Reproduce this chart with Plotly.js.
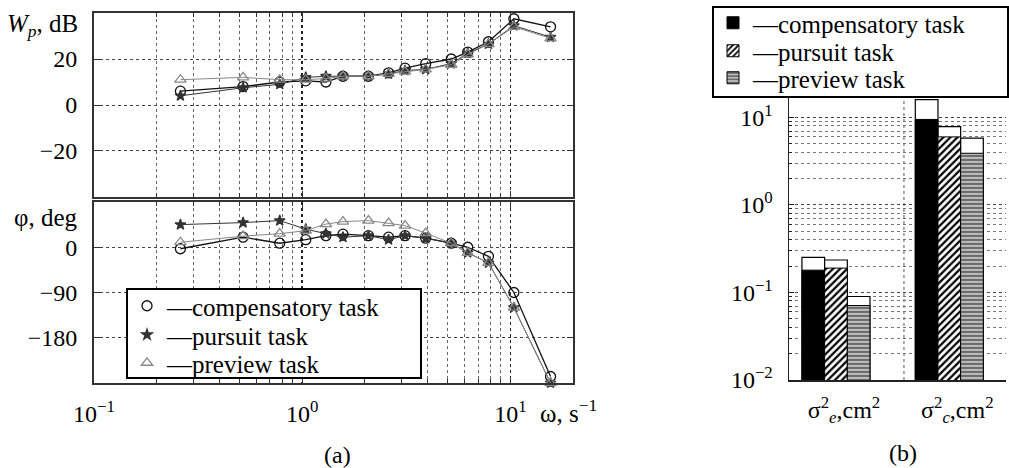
<!DOCTYPE html>
<html>
<head>
<meta charset="utf-8">
<script src="https://cdn.plot.ly/plotly-3.0.1.min.js"></script>
<style>html,body{margin:0;padding:0;background:#fff;}#chart{width:1009px;height:468px;}</style>
</head>
<body>
<div id="chart"></div>
<script>
// ---------- data (a) ----------
const freq = [0.26, 0.52, 0.78, 1.04, 1.3, 1.57, 2.08, 2.6, 3.12, 3.92, 5.2, 6.24, 7.85, 10.4, 15.6];
const magComp    = [6, 8, 10, 10.5, 10, 12.5, 12.5, 14, 16, 18, 20, 23, 27.5, 37.5, 34];
const magPursuit = [4, 7.5, 9, 12, 12.5, 12.5, 12.5, 13.5, 15, 15.5, 18, 22.5, 26.5, 34.5, 29.5];
const magPreview = [11, 12, 11, 11, 11.5, 12.5, 12.5, 13.5, 14.5, 15.5, 17.5, 22, 26.5, 34, 29];
const phComp     = [-3, 20, 8, 15, 23, 26, 23, 20, 23, 18, 8, 0, -18, -90, -257];
const phPursuit  = [45, 49, 53, 36, 27, 20, 23, 15, 23, 18, 8, -11, -31, -120, -270];
const phPreview  = [10, 22, 27, 33, 46, 51, 53, 48, 43, 28, 8, -11, -31, -120, -270];
const xMajorTicks = [0.1, 1, 10];
const xMajorText = ["10<sup>−1</sup>", "10<sup>0</sup>", "10<sup>1</sup>"];
const xMinorTicks = [0.2,0.3,0.4,0.5,0.6,0.7,0.8,0.9,2,3,4,5,6,7,8,9];
const magTicks = [-20, 0, 20];
const phTicks = [-180, -90, 0];
const seriesNames = ["—compensatory task", "—pursuit task", "—preview task"];

// ---------- data (b) ----------
const barCats = [1, 2];
const barCatLabels = ["σ<sup>2</sup><sub><i>e</i></sub>,cm<sup>2</sup>", "σ<sup>2</sup><sub><i>c</i></sub>,cm<sup>2</sup>"];
const compLow = [0.18, 9.5],   compHigh = [0.252, 16];
const pursLow = [0.19, 6.0],   pursHigh = [0.235, 7.85];
const prevLow = [0.071, 3.9],  prevHigh = [0.09, 5.8];
const barYTicks = [0.01, 0.1, 1, 10, 100];
const barYText = ["10<sup>−2</sup>", "10<sup>−1</sup>", "10<sup>0</sup>", "10<sup>1</sup>", ""];
const barYMinor = [0.02,0.03,0.04,0.05,0.06,0.07,0.08,0.09,0.2,0.3,0.4,0.5,0.6,0.7,0.8,0.9,2,3,4,5,6,7,8,9];

const FONT = "'Liberation Serif', 'Times New Roman', 'DejaVu Serif', serif";
const W = 1009, H = 468;
const styles = [
  {sym: "circle-open", color: "#111", size: 10, lw: 1.3},
  {sym: "star", color: "#333", size: 8, lw: 1},
  {sym: "triangle-up-open", color: "#888", size: 10, lw: 1}
];

const traces = [];
const mags = [magComp, magPursuit, magPreview];
const phs = [phComp, phPursuit, phPreview];
for (let i = 0; i < 3; i++) {
  const s = styles[i];
  traces.push({x: freq, y: mags[i], xaxis: "x2", yaxis: "y2", mode: "lines+markers", showlegend: false, cliponaxis: false,
    line: {color: s.color, width: s.lw}, marker: {symbol: s.sym, size: s.size, color: s.color, line: {color: s.color, width: 1.3}}});
  traces.push({x: freq, y: phs[i], xaxis: "x", yaxis: "y", mode: "lines+markers", showlegend: false, cliponaxis: false,
    line: {color: s.color, width: s.lw}, marker: {symbol: s.sym, size: s.size, color: s.color, line: {color: s.color, width: 1.3}}});
}
// legend-only entries for (a): one legend per row (legend, legend2, legend3)
const legA = ["legend", "legend2", "legend3"];
for (let i = 0; i < 3; i++) {
  const s = styles[i];
  traces.push({x: [null], y: [null], xaxis: "x", yaxis: "y", mode: "markers", name: seriesNames[i], legend: legA[i],
    marker: {symbol: s.sym, size: s.size, color: s.color, line: {color: s.color, width: 1.3}}});
}

// bars: white caps first (upper value), then filled parts
const highs = [compHigh, pursHigh, prevHigh];
const lows = [compLow, pursLow, prevLow];
for (let i = 0; i < 3; i++) {
  traces.push({type: "bar", x: barCats, y: highs[i], xaxis: "x3", yaxis: "y3", offsetgroup: String(i), showlegend: false,
    marker: {color: "#fff", line: {color: "#000", width: 1.2}}, hoverinfo: "skip"});
}
const fills = [
  {color: "#000", pattern: {shape: ""}},
  {color: "#fff", pattern: {shape: "/", fgcolor: "#000", bgcolor: "#fff", size: 5, solidity: 0.45}},
  {color: "#aaa", pattern: {shape: "-", fgcolor: "#555", bgcolor: "#bbb", size: 4, solidity: 0.4}}
];
const legB = ["legend4", "legend5", "legend6"];
for (let i = 0; i < 3; i++) {
  traces.push({type: "bar", x: barCats, y: lows[i], xaxis: "x3", yaxis: "y3", offsetgroup: String(i), name: seriesNames[i], legend: legB[i],
    marker: {color: fills[i].color, pattern: fills[i].pattern, line: {color: "#000", width: 1}}});
}

const gridCol = "#444";
const xCommon = {
  type: "log", range: [-1, Math.log10(20)], tickvals: xMajorTicks, ticktext: xMajorText,
  showgrid: true, gridcolor: "#222", griddash: "dot", gridwidth: 1.4,
  ticks: "inside", ticklen: 6, tickcolor: "#333", showline: true, linecolor: "#333", linewidth: 2, mirror: "ticks",
  minor: {tickvals: xMinorTicks, showgrid: true, gridcolor: "#666", griddash: "dot", gridwidth: 1, ticks: "inside", ticklen: 4, tickcolor: "#333"},
  zeroline: false
};
function legendAt(px, py) {
  return {x: px / W, y: 1 - py / H, xanchor: "left", yanchor: "middle", bgcolor: "rgba(0,0,0,0)", borderwidth: 0,
    font: {family: FONT, size: 25}, itemwidth: 30};
}
const layout = {
  width: W, height: H, margin: {l: 0, r: 0, t: 0, b: 0},
  paper_bgcolor: "#fff", plot_bgcolor: "#fff",
  font: {family: FONT, size: 24, color: "#000"},
  bargap: 0.4, barmode: "group",
  xaxis: Object.assign({}, xCommon, {domain: [0.0932, 0.5679], anchor: "y", ticklabelstandoff: 8}),
  xaxis2: Object.assign({}, xCommon, {domain: [0.0932, 0.5679], anchor: "y2", matches: "x", showticklabels: false}),
  yaxis: {domain: [0.1816, 0.5684], anchor: "x", range: [-270, 90], tickvals: phTicks, showgrid: true, gridcolor: gridCol, griddash: "dot",
    ticks: "inside", ticklen: 6, tickcolor: "#333", showline: true, linecolor: "#333", linewidth: 2, mirror: "ticks", zeroline: false, ticklabelstandoff: 10},
  yaxis2: {domain: [0.5791, 0.9722], anchor: "x2", range: [-40, 40], tickvals: magTicks, showgrid: true, gridcolor: gridCol, griddash: "dot",
    ticks: "inside", ticklen: 6, tickcolor: "#333", showline: true, linecolor: "#333", linewidth: 2, mirror: "ticks", zeroline: false, ticklabelstandoff: 10},
  xaxis3: {domain: [0.782, 0.997], anchor: "y3", range: [0.586, 2.5], tickvals: barCats, ticktext: barCatLabels, showgrid: false,
    ticks: "", showline: true, linecolor: "#222", linewidth: 1.5, zeroline: false, ticklabelstandoff: 8, ticklabelshift: 8},
  yaxis3: {domain: [0.188, 0.936], anchor: "x3", type: "log", range: [-2, 2], tickvals: barYTicks, ticktext: barYText,
    showgrid: true, gridcolor: gridCol, griddash: "dot", ticks: "inside", ticklen: 5, tickcolor: "#222", showline: true, linecolor: "#222", linewidth: 1.5,
    minor: {tickvals: barYMinor, showgrid: true, gridcolor: "#777", griddash: "dot", ticks: "inside", ticklen: 3, tickcolor: "#222"},
    zeroline: false, ticklabelstandoff: 10},
  legend: legendAt(127, 306),
  legend2: legendAt(127, 335),
  legend3: legendAt(127, 363),
  legend4: legendAt(713, 23),
  legend5: legendAt(713, 51),
  legend6: legendAt(713, 78),
  shapes: [
    {type: "line", xref: "x3", yref: "y3 domain", x0: 1.6, x1: 1.6, y0: 0, y1: 1, line: {color: "#555", width: 1, dash: "dot"}, layer: "below"},
    {type: "rect", xref: "paper", yref: "paper", x0: 127/W, x1: 421/W, y0: 1 - 378/H, y1: 1 - 289/H, fillcolor: "#fff", line: {color: "#000", width: 2}, layer: "above"},
    {type: "rect", xref: "paper", yref: "paper", x0: 713/W, x1: 1008/W, y0: 1 - 97/H, y1: 1 - 7/H, fillcolor: "#fff", line: {color: "#000", width: 2}, layer: "above"}
  ],
  annotations: [
    {text: "<i>W</i><sub><i>p</i></sub>, dB", xref: "paper", yref: "paper", x: 80/W, y: 1 - 25/H, xanchor: "right", yanchor: "middle", showarrow: false, font: {size: 25}},
    {text: "φ, deg", xref: "paper", yref: "paper", x: 80/W, y: 1 - 217/H, xanchor: "right", yanchor: "middle", showarrow: false, font: {size: 25}},
    {text: "ω, s<sup>−1</sup>", xref: "paper", yref: "paper", x: 538/W, y: 1 - 411/H, xanchor: "left", yanchor: "middle", showarrow: false, font: {size: 25}},
    {text: "(a)", xref: "paper", yref: "paper", x: 337/W, y: 1 - 455/H, xanchor: "center", yanchor: "middle", showarrow: false, font: {size: 24}},
    {text: "(b)", xref: "paper", yref: "paper", x: 903/W, y: 1 - 453/H, xanchor: "center", yanchor: "middle", showarrow: false, font: {size: 24}}
  ]
};
Plotly.newPlot("chart", traces, layout, {displayModeBar: false, staticPlot: true});
</script>
</body>
</html>
